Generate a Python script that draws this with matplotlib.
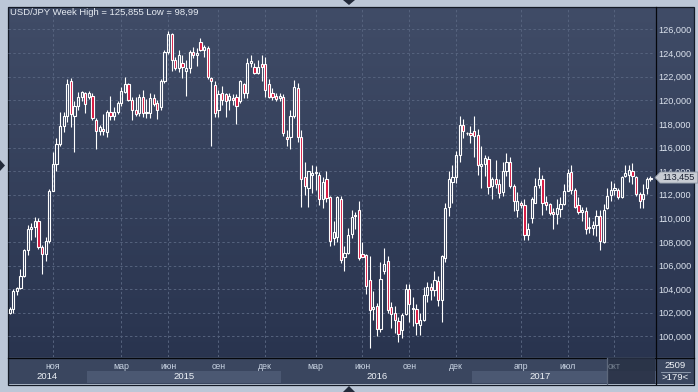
import numpy as np
import matplotlib
matplotlib.use("Agg")
import matplotlib.pyplot as plt
from matplotlib.colors import LinearSegmentedColormap
from matplotlib.patches import Rectangle, Polygon
from matplotlib.transforms import blended_transform_factory

plt.rcParams['font.family'] = ['Liberation Sans', 'DejaVu Sans']

## Weekly USD/JPY candles (one bar per week, Aug 2014 - Dec 2017)
opens = [102.0, 102.3, 103.8, 104.1, 105.1, 107.3, 109.1, 109.3, 109.8, 107.6,
         107.0, 108.1, 112.3, 114.6, 116.3, 117.8, 118.7, 121.6, 118.7, 119.5,
         120.3, 120.6, 120.3, 120.4, 118.3, 117.4, 117.6, 117.3, 119.0, 118.7,
         119.0, 119.75, 120.7, 121.4, 120.0, 119.2, 118.9, 120.25, 118.95, 118.9,
         120.2, 119.8, 119.4, 121.6, 124.1, 125.6, 123.4, 122.7, 123.2, 122.5,
         122.7, 124.06, 123.85, 124.9, 124.3, 124.4, 121.85, 121.3, 119.2, 120.6,
         120.5, 120.0, 120.2, 120.3, 119.9, 121.4, 120.6, 123.15, 122.85, 122.3,
         123.1, 123.1, 121.4, 120.6, 120.4, 120.2, 120.3, 116.9, 116.9, 118.7,
         121.0, 116.9, 113.5, 112.6, 113.7, 113.8, 113.7, 111.6, 113.3, 111.8,
         108.3, 108.4, 111.6, 106.7, 107.1, 108.7, 110.2, 110.7, 107.0, 106.9,
         104.8, 102.3, 102.6, 100.6, 105.5, 106.4, 102.5, 102.0, 101.3, 100.5,
         101.9, 104.0, 102.4, 102.3, 101.0, 101.4, 103.5, 104.2, 103.9, 104.7,
         103.1, 106.6, 110.95, 113.1, 113.5, 115.4, 117.9, 117.2, 117.24, 117.4,
         117.1, 114.4, 114.6, 115.0, 112.7, 113.3, 112.9, 112.2, 114.0, 114.8,
         112.7, 110.7, 111.3, 111.1, 108.6, 110.0, 111.3, 112.8, 113.3, 111.35,
         111.2, 110.5, 110.4, 110.8, 111.2, 112.3, 113.9, 112.4, 111.1, 110.5,
         110.65, 109.2, 109.2, 109.4, 110.2, 108.0, 110.9, 112.0, 112.4, 112.4,
         111.8, 113.6, 113.7, 114.0, 113.5, 112.1, 111.6, 112.6, 113.35]
highs = [102.5, 104.0, 104.2, 105.7, 107.4, 109.4, 109.6, 110.1, 110.0, 107.7,
         108.4, 112.5, 115.6, 116.8, 119.0, 119.0, 121.8, 121.9, 119.9, 120.7,
         120.8, 120.7, 120.8, 120.6, 118.5, 117.9, 118.8, 119.2, 120.4, 119.4,
         119.9, 121.1, 122.0, 121.5, 120.3, 120.3, 120.5, 120.9, 120.1, 120.6,
         120.5, 120.0, 121.8, 124.3, 125.86, 125.7, 123.7, 124.3, 123.8, 123.4,
         124.3, 124.5, 124.4, 125.3, 124.7, 124.6, 122.0, 121.6, 120.9, 121.2,
         120.6, 120.6, 120.5, 120.5, 121.7, 121.5, 123.6, 123.8, 123.2, 123.4,
         123.8, 123.7, 121.8, 121.0, 120.6, 120.6, 120.5, 117.5, 119.2, 121.7,
         121.5, 117.5, 114.8, 114.0, 114.56, 114.4, 113.9, 113.5, 114.0, 111.9,
         109.8, 111.9, 111.9, 107.65, 109.2, 110.7, 110.5, 111.5, 108.0, 107.0,
         106.8, 103.8, 102.85, 106.3, 107.5, 106.8, 102.9, 102.6, 101.6, 102.0,
         104.4, 104.4, 103.3, 102.7, 102.0, 104.2, 104.6, 104.5, 105.5, 105.1,
         106.9, 111.3, 114.0, 114.55, 115.7, 118.66, 118.4, 117.3, 117.8, 118.7,
         117.6, 116.1, 115.4, 115.3, 113.5, 114.9, 113.3, 114.75, 115.5, 115.2,
         112.9, 112.2, 111.45, 111.6, 109.6, 111.8, 113.4, 114.35, 113.7, 111.9,
         111.3, 110.9, 111.6, 111.8, 112.9, 114.2, 114.5, 112.6, 111.8, 111.0,
         110.95, 110.1, 109.8, 110.7, 110.7, 111.2, 112.6, 113.2, 113.0, 112.6,
         113.6, 114.5, 114.5, 114.7, 113.6, 112.2, 112.9, 113.5, 113.6]
lows = [101.9, 102.0, 103.5, 104.0, 105.0, 106.9, 108.2, 108.4, 107.4, 105.3,
        106.4, 107.9, 112.3, 114.0, 116.1, 117.3, 118.2, 117.7, 115.6, 119.2,
        119.9, 118.9, 120.1, 118.3, 115.85, 117.1, 117.1, 116.9, 118.3, 118.3,
        118.8, 119.5, 120.6, 119.9, 118.3, 118.7, 118.7, 118.6, 118.5, 118.5,
        119.5, 118.4, 119.2, 121.5, 123.9, 122.45, 122.6, 122.4, 121.9, 120.4,
        122.3, 123.6, 122.9, 124.2, 123.7, 121.8, 116.1, 118.6, 118.6, 119.6,
        118.6, 119.2, 119.6, 118.0, 119.8, 120.2, 120.2, 122.85, 122.2, 122.2,
        121.6, 120.3, 120.2, 120.0, 119.9, 119.9, 117.0, 116.1, 115.9, 118.5,
        116.5, 111.0, 112.0, 111.0, 112.16, 112.4, 111.1, 110.9, 111.4, 107.65,
        107.7, 108.0, 106.2, 105.5, 107.0, 108.3, 109.1, 106.5, 106.7, 103.6,
        99.0, 101.4, 100.0, 100.4, 105.25, 102.0, 100.7, 100.3, 99.55, 99.9,
        101.8, 101.2, 100.9, 100.1, 100.1, 101.3, 102.9, 103.1, 103.4, 102.6,
        101.2, 106.3, 110.2, 111.3, 113.0, 114.8, 116.8, 117.1, 116.4, 115.2,
        113.7, 112.6, 113.6, 112.1, 111.6, 112.6, 111.7, 111.9, 113.6, 112.6,
        110.6, 110.1, 110.9, 108.2, 108.15, 109.6, 111.3, 112.6, 110.3, 110.7,
        110.3, 109.1, 109.5, 110.1, 111.1, 112.3, 112.1, 110.9, 110.4, 109.8,
        108.7, 108.75, 108.6, 108.5, 107.3, 107.9, 110.8, 111.5, 112.0, 111.6,
        111.7, 113.5, 113.1, 112.9, 111.9, 110.9, 110.85, 112.1, 113.2]
closes = [102.3, 103.8, 104.1, 105.1, 107.3, 109.1, 109.3, 109.8, 107.6, 107.0,
          108.1, 112.3, 114.6, 116.3, 117.8, 118.7, 121.4, 118.8, 119.5, 120.3,
          120.7, 119.7, 120.6, 118.5, 117.4, 117.7, 117.4, 119.0, 118.7, 119.0,
          119.75, 120.8, 121.4, 120.0, 119.2, 118.8, 120.3, 118.95, 119.05, 120.2,
          119.7, 119.2, 121.6, 124.1, 125.6, 123.4, 122.7, 123.8, 122.8, 122.75,
          124.06, 123.8, 124.0, 124.3, 124.5, 122.0, 121.65, 118.95, 120.5, 120.0,
          119.9, 120.4, 120.0, 119.5, 121.6, 120.6, 123.2, 123.3, 122.3, 122.85,
          122.85, 120.9, 120.3, 120.3, 120.1, 120.4, 117.2, 116.7, 118.7, 121.1,
          116.9, 113.3, 112.7, 114.0, 113.85, 113.9, 111.6, 113.1, 111.7, 108.1,
          108.8, 111.8, 106.5, 107.1, 108.6, 110.1, 110.3, 106.6, 106.75, 104.3,
          102.2, 102.5, 100.6, 104.9, 106.1, 102.2, 101.9, 101.4, 100.2, 101.8,
          104.0, 102.7, 102.3, 101.1, 101.4, 103.5, 104.2, 103.9, 104.8, 103.1,
          106.8, 110.9, 113.3, 113.5, 115.4, 117.9, 117.4, 117.25, 117.04, 117.0,
          114.55, 114.6, 115.1, 112.66, 113.3, 112.9, 112.15, 114.0, 114.8, 112.7,
          111.45, 111.45, 111.1, 108.6, 109.1, 111.6, 112.75, 113.3, 111.3, 111.15,
          110.45, 110.4, 110.9, 111.2, 112.3, 113.8, 112.4, 111.0, 110.5, 110.7,
          109.1, 109.3, 109.4, 110.2, 108.1, 110.7, 111.9, 112.4, 112.6, 111.8,
          113.5, 113.8, 114.06, 113.6, 112.1, 111.5, 112.1, 113.3, 113.455]

month_idx = [12, 31, 44, 58, 71, 85, 98, 111, 124, 142, 155, 168]
month_names = ['ноя', 'мар', 'июн', 'сен', 'дек', 'мар', 'июн', 'сен', 'дек', 'апр', 'июл', 'окт']
year_names = ['2014', '2015', '2016', '2017']
year_edges = [-0.5, 21.5, 75.5, 128.5, 179.5]
price_ticks = list(range(100, 127, 2))
title = 'USD/JPY Week High = 125,855 Low = 98,99'
shade_from = 165.9
bars_total = 2509
bars_shown = 179

W, H = 698, 392
fig = plt.figure(figsize=(W / 100, H / 100), dpi=100)
fig.patch.set_facecolor('#bcc7d7')

## background layer in pixel coordinates
bg = fig.add_axes([0, 0, 1, 1])
bg.set_xlim(0, W)
bg.set_ylim(H, 0)
bg.axis('off')
grad = np.linspace(0, 1, 256).reshape(-1, 1)
cmap = LinearSegmentedColormap.from_list('panel', ['#404c67', '#29344f'])
bg.imshow(grad, extent=(8, 694, 357, 7), cmap=cmap, aspect='auto', zorder=0)
bg.add_patch(Rectangle((8, 357), 686, 27, facecolor='#3a465f', edgecolor='none', zorder=1))
bg.add_patch(Rectangle((7.5, 6.5), 686.5, 378, facecolor='none', edgecolor='#141a26', lw=0.9, zorder=5))
bg.plot([655.5, 655.5], [7, 384], color='#05070c', lw=0.9, zorder=5)
bg.plot([8, 694], [357.5, 357.5], color='#05070c', lw=0.9, zorder=5)
for pts in ([(343, 0), (355, 0), (349, 5)], [(343, 392), (355, 392), (349, 386)], [(0, 160), (0, 171), (5, 165.5)]):
    bg.add_patch(Polygon(pts, closed=True, facecolor='#222a3a', edgecolor='none', zorder=2))

# bar count box bottom right
bg.text(675, 365, str(bars_total), color='#f0f3f8', fontsize=6.8, ha='center', va='center', zorder=6)
bg.plot([661, 690], [371.5, 371.5], color='#9aa6b8', lw=0.6, zorder=6)
bg.text(675, 378, '>%d<' % bars_shown, color='#f0f3f8', fontsize=6.8, ha='center', va='center', zorder=6)

## main chart
ax = fig.add_axes([8 / W, (H - 357) / H, 647 / W, 349 / H])
ax.patch.set_alpha(0)
for s in ax.spines.values():
    s.set_visible(False)

o = np.array(opens)
h = np.array(highs)
l = np.array(lows)
c = np.array(closes)
x = np.arange(len(c))
top = np.maximum(o, c)
bot = np.minimum(o, c)
up = c >= o

ax.vlines(x, top, h, color='white', lw=0.8, zorder=3)
ax.vlines(x, l, bot, color='white', lw=0.8, zorder=3)
ax.bar(x[up], (top - bot)[up], bottom=bot[up], width=0.6,
       facecolor='none', edgecolor='white', lw=0.8, zorder=4)
ax.bar(x[~up], (top - bot)[~up], bottom=bot[~up], width=0.6,
       facecolor='#d6123c', edgecolor='white', lw=0.8, zorder=4)

ax.set_xlim(-0.47, 179.25)
ax.set_ylim(98.25, 127.82)
ax.set_xticks(month_idx)
ax.set_yticks(price_ticks)
ax.grid(True, color='#56637e', linestyle=(0, (2.5, 2.5)), lw=0.7, zorder=1)
ax.set_axisbelow(True)
ax.tick_params(axis='x', length=0, labelbottom=False)
ax.yaxis.tick_right()
ax.tick_params(axis='y', length=0, pad=2.2, labelsize=6.6, labelcolor='#dce3ee')
ax.set_yticklabels(['{:,}'.format(v * 1000) for v in price_ticks])
for t in ax.get_yticklabels():
    t.set_ha('left')

ax.text(0.003, 0.9857, title, transform=ax.transAxes, color='#e6ebf2',
        fontsize=6.8, ha='left', va='center')

## x axis area: year bands, month and year labels
tr = blended_transform_factory(ax.transData, ax.transAxes)
for i in range(len(year_names)):
    if i % 2 == 1:
        ax.add_patch(Rectangle((year_edges[i], -0.0745), year_edges[i + 1] - year_edges[i], 0.0345,
                               transform=tr, facecolor='#4b5872', edgecolor='none',
                               clip_on=False, zorder=1))
    right = min(year_edges[i + 1], shade_from)
    ax.text((year_edges[i] + right) / 2, -0.057, year_names[i], transform=tr,
            color='#eef2f7', fontsize=6.8, ha='center', va='center', clip_on=False)
for xi, name in zip(month_idx, month_names):
    col = '#74808f' if xi > shade_from else '#c9d4e3'
    ax.text(xi, -0.0258, name, transform=tr, color=col, fontsize=6.3,
            ha='center', va='center', clip_on=False, zorder=6)
ax.add_patch(Rectangle((shade_from, -0.0774), 179.25 - shade_from, 0.0745, transform=tr,
                       facecolor='#283145', edgecolor='none', alpha=0.85, clip_on=False, zorder=5))
ax.plot([shade_from, shade_from], [-0.0774, -0.003], transform=tr, color='#5d687c',
        lw=0.9, clip_on=False, zorder=5)

## last price marker
ytr = ax.get_yaxis_transform()
last = closes[-1]
ax.add_patch(Polygon([(1.0, last), (1.008, last + 0.47), (1.066, last + 0.47),
                      (1.066, last - 0.47), (1.008, last - 0.47)], closed=True,
                     transform=ytr, facecolor='#c8ccd3', edgecolor='#8d96a4', lw=0.6,
                     clip_on=False, zorder=7))
ax.text(1.037, last, '{:.3f}'.format(last).replace('.', ','), transform=ytr,
        color='#1c2334', fontsize=6.6, ha='center', va='center', clip_on=False, zorder=8)

fig.savefig('out.png', dpi=100, facecolor=fig.get_facecolor())
